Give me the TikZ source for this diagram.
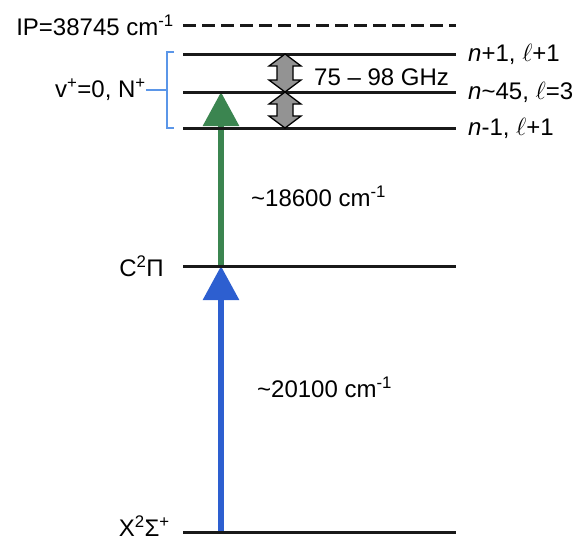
\documentclass[tikz,border=0pt]{standalone}
\usepackage{fontspec}
\setmainfont{Liberation Sans}
\usetikzlibrary{positioning, arrows.meta}

\definecolor{excgreen}{RGB}{59,133,80}
\definecolor{excblue}{RGB}{45,95,208}
\definecolor{brkblue}{RGB}{91,150,232}

\begin{document}
\begin{tikzpicture}[x=1pt, y=-1pt,
    lbl/.style={font=\fontsize{24}{28}\selectfont, inner sep=0pt},
    level/.style={line width=3pt, black!90},
    excite/.style={line width=6pt, -{Triangle[width=35pt, length=34pt]}},
    mwarrow/.style={draw=black, fill=gray!85!white, line width=1.3pt, line join=miter},
    brk/.style={draw=brkblue, line width=2pt}]
  \useasboundingbox (0,0) rectangle (579,541);
  \foreach \n/\y in {ip/25, up/54, mid/92, low/128, c/266, x/532} {
    \coordinate (\n0) at (183,\y);
    \coordinate (\n1) at (456,\y);
  }
  \coordinate (pC) at (221,266);
  \coordinate (pM) at (221,92);
  \coordinate (pX) at (221,532);
  \draw[excite, excblue] (pX) -- (pC);
  \draw[excite, excgreen] (pC) -- (pM);
  \draw[level, dash pattern=on 13pt off 6pt] (ip0) -- (ip1);
  \foreach \n in {up, mid, low, c, x}
    \draw[level] (\n0) -- (\n1);
  \foreach \t/\b in {54/92, 92/128}
    \draw[mwarrow] (285,\t) -- (301,\t+12) -- (293,\t+12) -- (293,\b-12)
      -- (301,\b-12) -- (285,\b) -- (269,\b-12) -- (277,\b-12)
      -- (277,\t+12) -- (269,\t+12) -- cycle;
  \node[lbl, left=9pt of ip0] (ipl) {IP=38745 cm\textsuperscript{-1}};
  \node[lbl, left=19pt of c0] (cl) {C\textsuperscript{2}Π};
  \node[lbl, left=13pt of x0, yshift=6pt] (xl) {X\textsuperscript{2}Σ\textsuperscript{+}};
  \node[lbl, right=12pt of up1] (upl) {\textit{n}+1, $\ell$+1};
  \node[lbl, right=12pt of mid1] (midl) {\textit{n}\textasciitilde 45, $\ell$=3};
  \node[lbl, right=12pt of low1] (lowl) {\textit{n}-1, $\ell$+1};
  \node[lbl, anchor=west] (ghz) at (314,77) {75 -- 98 GHz};
  \node[lbl, anchor=west] (e2) at (251,196) {\textasciitilde 18600 cm\textsuperscript{-1}};
  \node[lbl, anchor=west] (e1) at (257,387) {\textasciitilde 20100 cm\textsuperscript{-1}};
  \coordinate (bk) at (167,90);
  \draw[brk] (174,52) -- (167,52) -- (167,128) -- (174,128);
  \node[lbl, anchor=east] (vn) at (146,90) {v\textsuperscript{+}=0, N\textsuperscript{+}};
  \draw[brk] (vn.east) -- (bk);
\end{tikzpicture}
\end{document}
